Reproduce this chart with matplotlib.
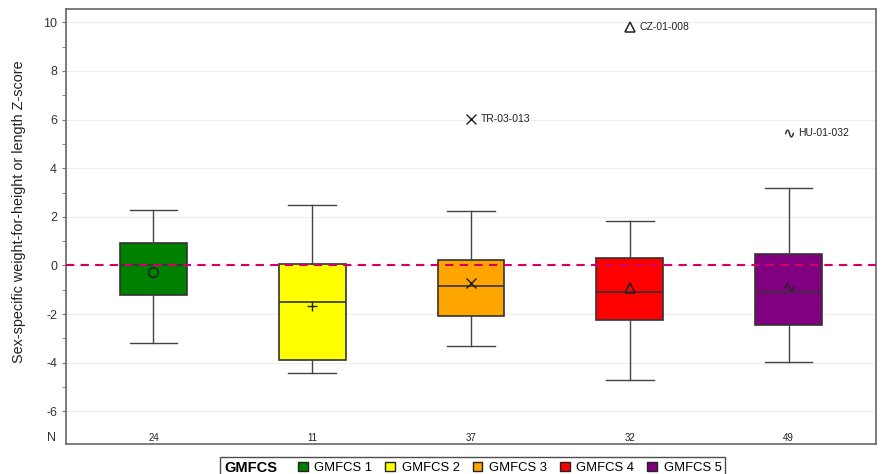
import matplotlib.pyplot as plt
import matplotlib.transforms as mtransforms
from matplotlib.patches import Patch
from matplotlib.offsetbox import HPacker

plt.rcParams['font.family'] = ['Liberation Sans', 'DejaVu Sans']

# Box statistics per GMFCS level
groups = ["GMFCS 1", "GMFCS 2", "GMFCS 3", "GMFCS 4", "GMFCS 5"]
colors = ["#008000", "#ffff00", "#ffa500", "#ff0000", "#800080"]
whislo = [-3.17, -4.42, -3.31, -4.70, -3.98]
q1 = [-1.23, -3.90, -2.07, -2.26, -2.43]
med = [0.03, -1.51, -0.85, -1.11, -1.11]
q3 = [0.93, 0.07, 0.21, 0.29, 0.47]
whishi = [2.29, 2.48, 2.24, 1.82, 3.17]
means = [-0.25, -1.65, -0.73, -0.92, -0.89]
n_counts = [24, 11, 37, 32, 49]
mean_markers = ["o", "+", "x", "^", "$\u223f$"]

# Labelled outliers
out_group = [3, 4, 5]
out_value = [6.01, 9.80, 5.45]
out_id = ["TR-03-013", "CZ-01-008", "HU-01-032"]

fig = plt.figure(figsize=(8.82, 4.74), dpi=100)
ax = fig.add_axes([0.075, 0.063, 0.918, 0.918])

stats = []
for i in range(len(groups)):
    stats.append(dict(whislo=whislo[i], q1=q1[i], med=med[i], q3=q3[i],
                      whishi=whishi[i], fliers=[], label=groups[i]))

pos = list(range(1, len(groups) + 1))
bp = ax.bxp(stats, positions=pos, widths=0.42, patch_artist=True,
            showfliers=False,
            boxprops=dict(edgecolor="#333333", linewidth=1.2),
            medianprops=dict(color="#333333", linewidth=1.2),
            whiskerprops=dict(color="#444444", linewidth=1.0),
            capprops=dict(color="#444444", linewidth=1.0),
            capwidths=0.3)
for patch, c in zip(bp["boxes"], colors):
    patch.set_facecolor(c)


def draw_symbol(x, y, mk, size):
    if mk in ("o", "^"):
        ax.plot(x, y, marker=mk, ms=size, mfc="none", mec="#222222",
                mew=1.1, zorder=5)
    elif mk.startswith("$"):
        ax.plot(x, y, marker=mk, ms=size, color="#222222", mew=0.2,
                zorder=5)
    else:
        ax.plot(x, y, marker=mk, ms=size, color="#222222", mew=1.0,
                zorder=5)


# Means
for i in range(len(groups)):
    draw_symbol(pos[i], means[i], mean_markers[i], 7)

# Outliers with IDs
for g, v, lab in zip(out_group, out_value, out_id):
    draw_symbol(g, v, mean_markers[g - 1], 6.5)
    ax.text(g + 0.06, v, lab, fontsize=7.5, va="center", ha="left",
            color="#222222")

# Reference line at zero
ax.axhline(0, color="#d4006a", linestyle=(0, (4, 3)), linewidth=1.5, zorder=4)

ax.set_xlim(0.45, 5.55)
ax.set_ylim(-7.35, 10.55)
yt = [10, 8, 6, 4, 2, 0, -2, -4, -6]
ax.set_yticks(yt)
ax.set_yticklabels([str(v) for v in yt], fontsize=9, color="#333333")
ax.set_yticks([9, 7, 5, 3, 1, -1, -3, -5], minor=True)
ax.tick_params(axis="y", which="both", length=3, color="#777777")
ax.set_xticks([])
ax.yaxis.grid(True, color="#eeeeee", linewidth=0.8)
ax.set_axisbelow(True)
for s in ax.spines.values():
    s.set_color("#666666")
    s.set_linewidth(1.2)

ax.set_ylabel("Sex-specific weight-for-height or length Z-score",
              fontsize=10.4, color="#222222")
ax.yaxis.set_label_coords(-0.05, 0.535)

# N row
n_y = -7.08
trans = mtransforms.blended_transform_factory(ax.transAxes, ax.transData)
ax.text(-0.012, n_y, "N", transform=trans, ha="right", va="center",
        fontsize=9, color="#333333")
for p, n in zip(pos, n_counts):
    ax.text(p, n_y, str(n), ha="center", va="center", fontsize=7,
            color="#222222")

# Legend, title placed to the left of the entries
handles = [Patch(facecolor=c, edgecolor="#222222", label=g)
           for c, g in zip(colors, groups)]
leg = fig.legend(handles=handles, loc="upper left", title="GMFCS",
                 bbox_to_anchor=(0.2495, 0.036), ncol=5, fontsize=9.4,
                 frameon=True, fancybox=False, edgecolor="#222222",
                 handlelength=0.75, handleheight=0.75, handletextpad=0.5,
                 columnspacing=1.0, borderpad=0.3, borderaxespad=0)
leg.get_title().set_fontsize(10.5)
leg.get_title().set_fontweight("bold")
leg.get_frame().set_linewidth(1.0)
fs = leg._fontsize
row = HPacker(pad=leg.borderpad * fs, sep=1.6 * fs, align="center",
              children=[leg._legend_title_box, leg._legend_handle_box])
row.set_figure(fig)
row.axes = leg.axes
leg._legend_box = row
row.set_offset(leg._findoffset)

fig.savefig("out.png", dpi=100)
